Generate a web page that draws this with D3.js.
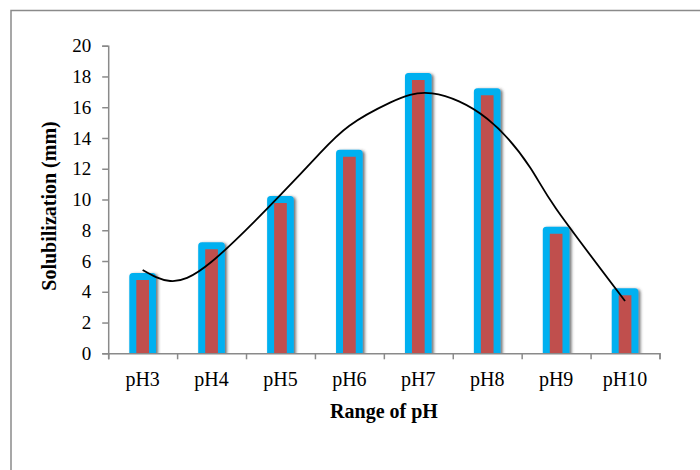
<!DOCTYPE html>
<html>
<head>
<meta charset="utf-8">
<script src="https://cdn.jsdelivr.net/npm/d3@7"></script>
<style>
  body { margin: 0; background: #fff; }
  svg text { font-family: "Liberation Serif", "Times New Roman", "DejaVu Serif", serif !important; fill: #000; }
</style>
</head>
<body>
<svg id="chart" width="700" height="470"></svg>
<script>
// Données
var categories = ["pH3", "pH4", "pH5", "pH6", "pH7", "pH8", "pH9", "pH10"];
var values = [5, 7, 10, 13, 18, 17, 8, 4];
var yTicks = [0, 2, 4, 6, 8, 10, 12, 14, 16, 18, 20];
// Courbe de tendance : position (index de catégorie) et valeur estimées
var trendPos = [0, 0.4, 1, 2, 2.57, 3, 3.59, 4.2, 5, 5.62, 6, 7];
var trendVal = [5.41, 4.7, 5.95, 10.3, 13.0, 14.8, 16.3, 16.9, 15.25, 12.1, 9.4, 3.4];

var serif = "'Liberation Serif', 'Times New Roman', serif";
var svg = d3.select("#chart");
var rect = { left: 108.2, right: 659.5, top: 45.7, bottom: 353.3 };
var axisColor = "#8a8a8a";

// Cadre du graphique (déborde à droite et en bas)
svg.append("rect")
    .attr("x", 11).attr("y", 10.5)
    .attr("width", 800).attr("height", 600)
    .attr("fill", "#fff")
    .attr("stroke", axisColor)
    .attr("stroke-width", 1.5);

var x = d3.scaleBand()
    .domain(categories)
    .range([rect.left, rect.right])
    .paddingInner(0.714)
    .paddingOuter(0.357);

var y = d3.scaleLinear().domain([0, 20]).range([rect.bottom, rect.top]);

// index de catégorie -> centre de la barre
var xi = d3.scaleLinear()
    .domain([0, categories.length - 1])
    .range([x(categories[0]) + x.bandwidth() / 2, x(categories[categories.length - 1]) + x.bandwidth() / 2]);

var defs = svg.append("defs");
var shadow = defs.append("filter").attr("id", "shadow")
    .attr("x", "-50%").attr("y", "-20%").attr("width", "200%").attr("height", "140%");
shadow.append("feDropShadow")
    .attr("dx", 2).attr("dy", 1).attr("stdDeviation", 1.8)
    .attr("flood-color", "#404040").attr("flood-opacity", 0.75);

defs.append("clipPath").attr("id", "plotClip")
    .append("rect")
    .attr("x", rect.left).attr("y", 0)
    .attr("width", rect.right - rect.left).attr("height", rect.bottom);

// Barres : contour bleu épais, remplissage rouge
svg.append("g")
    .attr("clip-path", "url(#plotClip)")
    .append("g")
    .attr("filter", "url(#shadow)")
    .selectAll("rect")
    .data(values)
    .enter().append("rect")
    .attr("x", (d, i) => x(categories[i]))
    .attr("y", d => y(d))
    .attr("width", x.bandwidth())
    .attr("height", d => y(0) - y(d) + 6)
    .attr("fill", "#C0504D")
    .attr("stroke", "#00B0F0")
    .attr("stroke-width", 7)
    .attr("stroke-linejoin", "round");

// Axe Y
var yAxis = svg.append("g")
    .attr("transform", "translate(" + rect.left + ",0)")
    .call(d3.axisLeft(y).tickValues(yTicks).tickSize(6).tickPadding(11))
    .attr("font-family", serif);
yAxis.selectAll("text").attr("font-size", 19).attr("font-family", serif);

// Axe X : graduations aux frontières des catégories
var xb = d3.scaleLinear().domain([0, categories.length]).range([rect.left, rect.right]);
svg.append("g")
    .attr("transform", "translate(0," + rect.bottom + ")")
    .call(d3.axisBottom(xb).tickValues(d3.range(categories.length + 1)).tickSize(6).tickFormat(""));

svg.selectAll(".domain, .tick line")
    .attr("stroke", axisColor)
    .attr("stroke-width", 1.5);

// Étiquettes des catégories
svg.append("g").selectAll("text")
    .data(categories)
    .enter().append("text")
    .attr("x", d => x(d) + x.bandwidth() / 2)
    .attr("y", 386)
    .attr("text-anchor", "middle")
    .attr("font-family", serif)
    .attr("font-size", 20)
    .text(d => d);

// Courbe de tendance
var line = d3.line()
    .x(d => xi(d[0]))
    .y(d => y(d[1]))
    .curve(d3.curveNatural);

svg.append("path")
    .datum(trendPos.map((p, i) => [p, trendVal[i]]))
    .attr("d", line)
    .attr("fill", "none")
    .attr("stroke", "#000")
    .attr("stroke-width", 1.8);

// Titres des axes
svg.append("text")
    .attr("x", 384).attr("y", 418)
    .attr("text-anchor", "middle")
    .attr("font-family", serif)
    .attr("font-size", 20)
    .attr("font-weight", "bold")
    .text("Range of pH");

svg.append("text")
    .attr("transform", "translate(56,206) rotate(-90)")
    .attr("text-anchor", "middle")
    .attr("font-family", serif)
    .attr("font-size", 20)
    .attr("font-weight", "bold")
    .text("Solubilization (mm)");
</script>
</body>
</html>
